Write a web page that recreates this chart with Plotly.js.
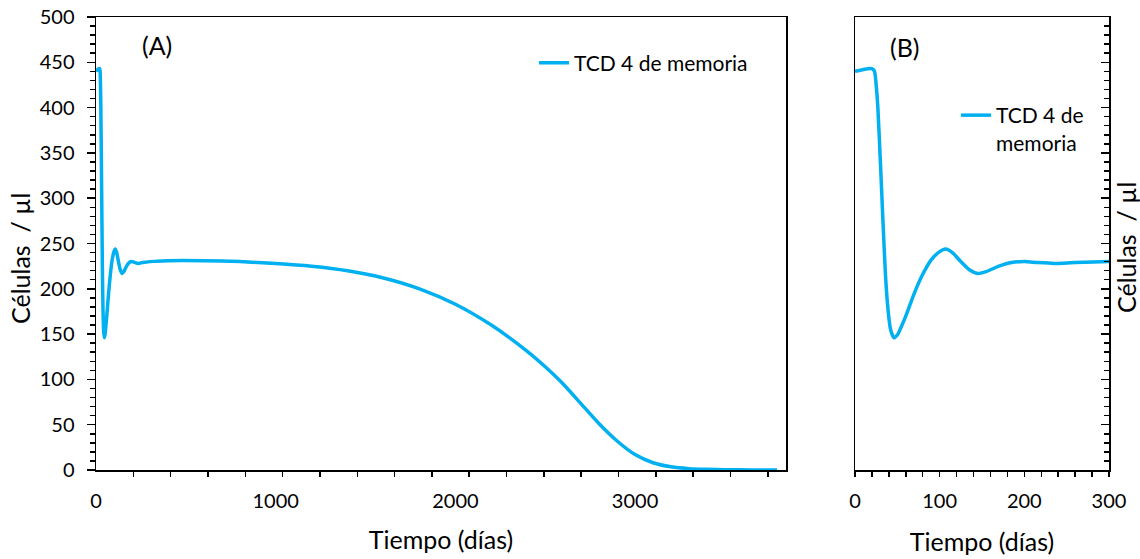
<!DOCTYPE html>
<html>
<head>
<meta charset="utf-8">
<script src="https://cdn.plot.ly/plotly-3.0.1.min.js"></script>
<style>html,body{margin:0;padding:0;background:#fff;}#chart{width:1140px;height:559px;}</style>
</head>
<body>
<div id="chart"></div>
<script>
// Time (days)
const days = [0, 5, 10, 15, 20, 23, 25, 27, 30, 33, 36, 39, 42, 46, 50, 60, 70, 80, 90, 100, 107, 115, 125, 135, 145, 155, 170, 185, 200, 215, 235, 260, 300,
  400, 600, 800, 1000, 1200, 1400, 1600, 1800, 2000, 2200, 2400, 2500, 2600, 2700, 2800, 2900, 3000, 3100, 3200, 3300, 3400, 3500, 3650, 3790];
// Memory CD4 T cells (cells / µl)
const cells = [440, 441, 442, 443, 443, 440, 425, 400, 340, 275, 215, 177, 155, 146, 149, 170, 195, 216, 232, 241, 244, 240, 230, 221, 217, 219, 225, 229, 230, 229, 228, 229, 230,
  231, 231, 230, 228, 225, 220, 212, 200, 183, 160, 131, 114, 95, 73, 51, 32, 17, 8, 3.5, 1.5, 0.7, 0.3, 0.1, 0];

const seriesName = "TCD 4 de memoria";
const seriesNameWrapped = "TCD 4 de<br>memoria";
const xTitle = "Tiempo (días)";
const yTitle = "Células\u00A0\u00A0/ µl";
const panelLabels = ["(A)", "(B)"];

const W = 1140, H = 559;
const FONT = "Lato, 'Open Sans', sans-serif";
const lineColor = "#00B0F0";
const px = v => v / W;
const py = v => 1 - v / H;
const TITLE_SIZE = 25;

const traces = [
  {x: days, y: cells, type: "scatter", mode: "lines", name: seriesName,
   line: {color: lineColor, width: 3.5, shape: "spline", smoothing: 0.6}, xaxis: "x", yaxis: "y", legend: "legend"},
  {x: days, y: cells, type: "scatter", mode: "lines", name: seriesNameWrapped,
   line: {color: lineColor, width: 3.5, shape: "spline", smoothing: 0.6}, xaxis: "x2", yaxis: "y2", legend: "legend2"}
];

const axisCommon = {showline: true, linecolor: "#000", linewidth: 1.5, mirror: true, showgrid: false, zeroline: false,
  tickcolor: "#000", tickwidth: 1.5, tickfont: {family: FONT, size: 20, color: "#000"}};

const layout = {
  width: W, height: H,
  margin: {l: 0, r: 0, t: 0, b: 0},
  paper_bgcolor: "#fff", plot_bgcolor: "#fff",
  font: {family: FONT, size: 20, color: "#000"},
  xaxis: Object.assign({}, axisCommon, {
    domain: [px(96), px(786)], range: [0, 3840], anchor: "y",
    tickmode: "linear", tick0: 0, dtick: 1000, ticks: "outside", ticklen: 0, ticklabelstandoff: 12,
    minor: {tick0: 0, dtick: 207.7, ticks: "outside", ticklen: 5, tickcolor: "#000", tickwidth: 1.5},
    title: {text: xTitle, font: {family: FONT, size: TITLE_SIZE, color: "#000"}, standoff: 21}
  }),
  yaxis: Object.assign({}, axisCommon, {
    domain: [1 - 470 / H, 1 - 17 / H], range: [0, 500], anchor: "x",
    tickmode: "linear", tick0: 0, dtick: 50, ticks: "outside", ticklen: 8, ticklabelstandoff: 8,
    minor: {dtick: 10, ticks: "outside", ticklen: 5, tickcolor: "#000", tickwidth: 1.5}
  }),
  xaxis2: Object.assign({}, axisCommon, {
    domain: [px(855), px(1109)], range: [0, 300], anchor: "y2",
    tickmode: "linear", tick0: 0, dtick: 100, ticks: "outside", ticklen: 5, ticklabelstandoff: 7,
    minor: {dtick: 20, ticks: "outside", ticklen: 5, tickcolor: "#000", tickwidth: 1.5},
    title: {text: xTitle, font: {family: FONT, size: TITLE_SIZE, color: "#000"}, standoff: 23}
  }),
  yaxis2: Object.assign({}, axisCommon, {
    domain: [1 - 470 / H, 1 - 17 / H], range: [0, 500], anchor: "x2", side: "right",
    tickmode: "linear", tick0: 0, dtick: 50, ticks: "inside", ticklen: 8, showticklabels: false,
    minor: {dtick: 10, ticks: "inside", ticklen: 5, tickcolor: "#000", tickwidth: 1.5}
  }),
  showlegend: true,
  legend: {x: px(534), y: py(63), xanchor: "left", yanchor: "middle", bgcolor: "rgba(0,0,0,0)",
    font: {family: FONT, size: 21, color: "#000"}, itemwidth: 30},
  legend2: {x: px(956), y: py(129), xanchor: "left", yanchor: "middle", bgcolor: "rgba(0,0,0,0)", valign: "top",
    font: {family: FONT, size: 21, color: "#000"}, itemwidth: 30},
  annotations: [
    {text: panelLabels[0], x: px(157), y: py(45), xref: "paper", yref: "paper", xanchor: "center", yanchor: "middle", showarrow: false,
     font: {family: FONT, size: TITLE_SIZE, color: "#000"}},
    {text: panelLabels[1], x: px(905), y: py(47), xref: "paper", yref: "paper", xanchor: "center", yanchor: "middle", showarrow: false,
     font: {family: FONT, size: TITLE_SIZE, color: "#000"}},
    {text: yTitle, x: px(20), y: py(259), xref: "paper", yref: "paper", xanchor: "center", yanchor: "middle", showarrow: false, textangle: -90,
     font: {family: FONT, size: TITLE_SIZE, color: "#000"}},
    {text: yTitle, x: px(1126), y: py(248), xref: "paper", yref: "paper", xanchor: "center", yanchor: "middle", showarrow: false, textangle: -90,
     font: {family: FONT, size: TITLE_SIZE, color: "#000"}}
  ]
};

Plotly.newPlot("chart", traces, layout, {staticPlot: true, displayModeBar: false});
</script>
</body>
</html>
